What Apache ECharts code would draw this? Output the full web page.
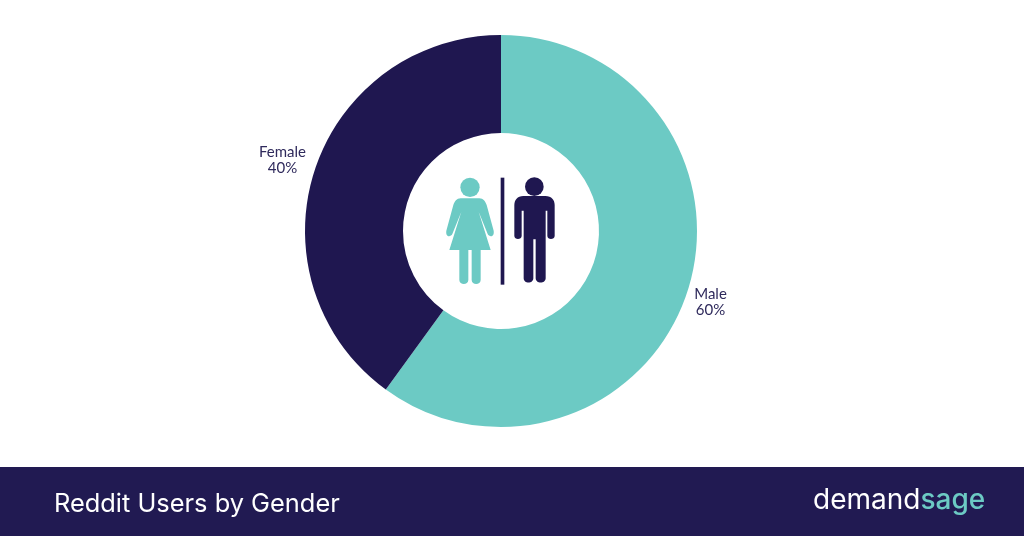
<!DOCTYPE html>
<html><head><meta charset="utf-8">
<style>html,body{margin:0;padding:0;background:#fff}#c{width:1024px;height:536px}</style>
<script src="https://cdn.jsdelivr.net/npm/echarts@6/dist/echarts.min.js"></script>
</head><body><div id="c"></div>
<script>
const categories = ['Male', 'Female'];
const shares = [60, 40];
const title = 'Reddit Users by Gender';
const teal = '#6ccac4', navy = '#1f1750';
const labelSpots = [{x: 710.5, y: 302}, {x: 282.5, y: 160}];
echarts.graphic.registerShape('womanBody', echarts.graphic.extendPath('M122,115 L178,115 C190,115 196,125 200,135 L221,212 C224,232 208,232 203,222 L176,155 L212,270 L182,270 L182,360 C182,376 155,376 155,360 L155,270 L145,270 L145,360 C145,376 118,376 118,360 L118,270 L88,270 L124,155 L97,222 C92,232 76,232 79,212 L100,135 C104,125 110,115 122,115 Z', {}));
echarts.graphic.registerShape('manBody', echarts.graphic.extendPath('M310,108 L376,108 C395,108 404,120 404,135 L404,228 C404,240 382,240 382,228 L382,152 L377,152 L377,355 C377,372 347,372 347,355 L347,238 L340,238 L340,355 C340,372 311,372 311,355 L311,152 L305,152 L305,228 C305,240 283,240 283,228 L283,135 C283,120 292,108 310,108 Z', {}));
const chart = echarts.init(document.getElementById('c'), null, {renderer: 'canvas'});
chart.setOption({
  animation: false,
  backgroundColor: '#fff',
  series: [{
    type: 'pie', center: [501, 231], radius: [98, 196], startAngle: 90, clockwise: true,
    silent: true,
    data: categories.map((n, i) => ({name: n, value: shares[i], itemStyle: {color: i ? navy : teal}})),
    label: {show: true, formatter: p => p.name + '\n' + p.value + '%', color: '#2f2a5c',
      fontFamily: 'Lato', fontSize: 15, lineHeight: 16, align: 'center', verticalAlign: 'middle'},
    labelLine: {show: false},
    labelLayout: p => Object.assign({align: 'center', verticalAlign: 'middle'}, labelSpots[p.dataIndex])
  }],
  graphic: {elements: [
    {type: 'rect', silent: true, shape: {x: 0, y: 467, width: 1024, height: 69}, style: {fill: '#211a52'}},
    {type: 'text', silent: true, x: 54, y: 504, style: {text: title, fill: '#fff', font: '400 25.4px Inter', textVerticalAlign: 'middle'}},
    {type: 'text', silent: true, x: 813, y: 501, style: {
      rich: {a: {fill: '#fff', font: '400 28px Inter'}, b: {fill: teal, font: '500 28px Inter'}},
      text: '{a|demand}{b|sage}', textVerticalAlign: 'middle'}},
    {type: 'group', silent: true, x: 420, y: 160, scaleX: 1/3, scaleY: 1/3, children: [
      {type: 'circle', shape: {cx: 150, cy: 82, r: 29}, style: {fill: teal}},
      {type: 'womanBody', style: {fill: teal}},
      {type: 'rect', shape: {x: 242, y: 53, width: 11, height: 321}, style: {fill: navy}},
      {type: 'circle', shape: {cx: 343, cy: 80, r: 28}, style: {fill: navy}},
      {type: 'manBody', style: {fill: navy}}
    ]}
  ]}
});
</script></body></html>
